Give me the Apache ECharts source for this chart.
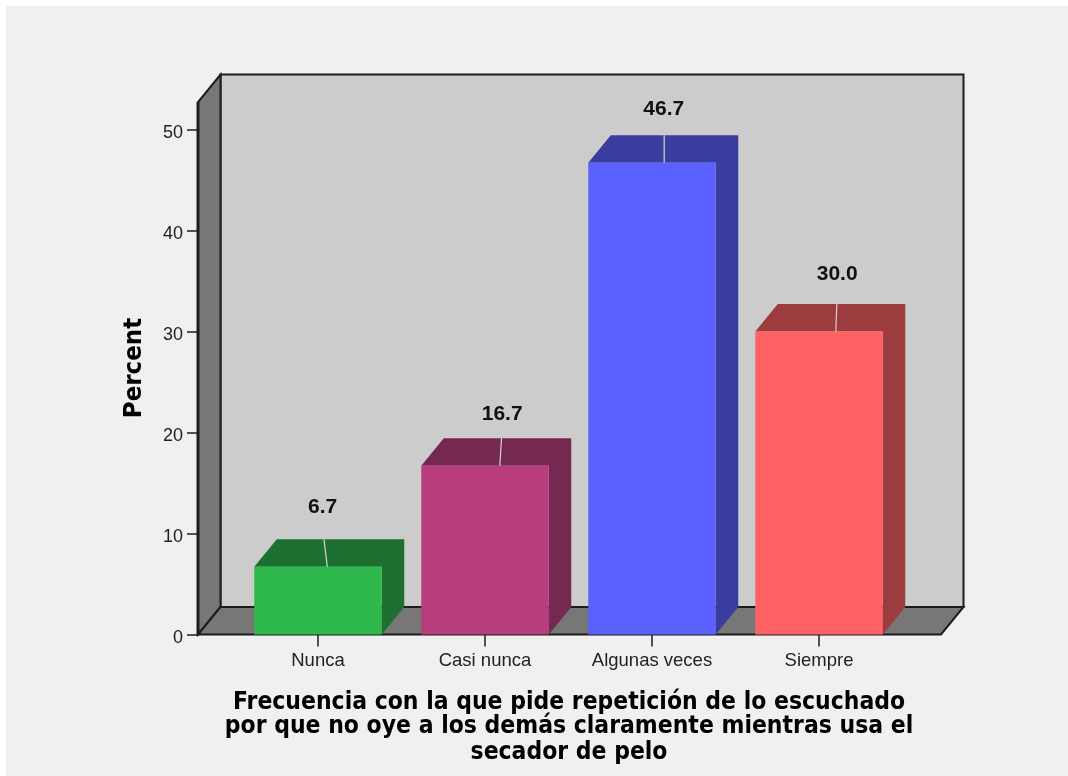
<!DOCTYPE html>
<html>
<head>
<meta charset="utf-8">
<style>html,body{margin:0;padding:0;background:#fff}#chart{width:1068px;height:776px}</style>
<script src="https://cdn.jsdelivr.net/npm/echarts@6/dist/echarts.min.js"></script>
</head>
<body>
<div id="chart"></div>
<script>
// Survey responses, percent of respondents
const categories = ['Nunca', 'Casi nunca', 'Algunas veces', 'Siempre'];
const percentValues = [6.7, 16.7, 46.7, 30.0];
const yTicks = [0, 10, 20, 30, 40, 50];
const yAxisTitle = 'Percent';
const xAxisTitleLines = [
  'Frecuencia con la que pide repetición de lo escuchado',
  'por que no oye a los demás claramente mientras usa el',
  'secador de pelo'
];

// Face colours of each prism: front, then the shaded top and side
const frontColors = ['#2fb84b', '#b83d7c', '#5b61fe', '#fe6264'];
const shadeColors = ['#1e7030', '#752850', '#393d9e', '#9c3c3e'];

// Callout placement per bar, in pixels: label dx, label lift, leader start dx, leader end dx
const callouts = [
  [4.7, 59.5, 6, 9.3],
  [17.2, 52, 16.5, 14.8],
  [11.8, 53.5, 12.2, 12.2],
  [18.2, 57.5, 17.8, 16.8]
];

// Oblique projection of the chart box
const DEPTH_X = 22.5;
const DEPTH_Y = 27.5;
const BOX_LEFT_INSET = 36.5;
const BOX_RIGHT_INSET = 38.5;
const BAR_RATIO = 127.5 / 167;
const AXIS_TOP = 52.72;

const LINE = '#1c1c1c';
const FONT = '"Liberation Sans", Arial, sans-serif';

function poly(points, fill, stroke, width) {
  return {
    type: 'polygon',
    shape: { points },
    style: { fill, stroke: stroke || null, lineWidth: width || 0, lineJoin: 'miter' }
  };
}

// The open box behind the bars: back wall, left wall and floor
function renderBox(params) {
  const c = params.coordSys;
  const l = c.x - BOX_LEFT_INSET;
  const r = c.x + c.width + BOX_RIGHT_INSET;
  const t = c.y;
  const b = c.y + c.height;
  const dx = DEPTH_X, dy = DEPTH_Y;
  return {
    type: 'group',
    children: [
      poly([[l + dx, t - dy], [r + dx, t - dy], [r + dx, b - dy], [l + dx, b - dy]], '#cccccc', LINE, 2),
      poly([[l, b], [l, t], [l + dx, t - dy], [l + dx, b - dy]], '#777777', LINE, 2),
      poly([[l, b], [r, b], [r + dx, b - dy], [l + dx, b - dy]], '#777777', LINE, 2),
      { type: 'line', shape: { x1: l, y1: b + 1, x2: l, y2: t }, style: { stroke: LINE, lineWidth: 3 } }
    ]
  };
}

// One prism with its value label and leader
function renderBar(params, api) {
  const i = params.dataIndex;
  const value = api.value(1);
  const base = api.coord([api.value(0), 0]);
  const top = api.coord([api.value(0), value]);
  const w = api.size([1, 0])[0] * BAR_RATIO;
  const x0 = base[0] - w / 2;
  const x1 = base[0] + w / 2;
  const yb = base[1];
  const yt = top[1];
  const dx = DEPTH_X, dy = DEPTH_Y;
  const nudge = callouts[i];
  return {
    type: 'group',
    children: [
      // top and side share one shade, so they are a single outline
      poly([[x0, yt], [x0 + dx, yt - dy], [x1 + dx, yt - dy], [x1 + dx, yb - dy], [x1, yb], [x1, yt]], shadeColors[i]),
      { type: 'rect', shape: { x: x0, y: yt, width: w, height: yb - yt }, style: { fill: frontColors[i] } },
      {
        type: 'line',
        shape: { x1: base[0] + nudge[2], y1: yt - dy, x2: base[0] + nudge[3], y2: yt },
        style: { stroke: '#d4d4d4', lineWidth: 1.2 }
      },
      {
        type: 'text',
        x: base[0] + nudge[0],
        y: yt - nudge[1],
        style: {
          text: value.toFixed(1),
          fill: '#111',
          font: 'bold 21px ' + FONT,
          align: 'center',
          verticalAlign: 'middle'
        }
      }
    ]
  };
}

const chart = echarts.init(document.getElementById('chart'));
chart.setOption({
  animation: false,
  backgroundColor: '#ffffff',
  grid: { left: 234.5, top: 102, width: 668, height: 532.5 },
  xAxis: {
    type: 'category',
    data: categories,
    axisLine: { show: false },
    axisTick: { show: true, alignWithLabel: true, length: 12, lineStyle: { color: LINE, width: 1.5 } },
    axisLabel: { color: '#222', fontFamily: FONT, fontSize: 18.5, margin: 17 }
  },
  yAxis: {
    type: 'value',
    min: 0,
    max: AXIS_TOP,
    interval: 10,
    offset: BOX_LEFT_INSET,
    splitLine: { show: false },
    axisLine: { show: false },
    axisTick: { show: true, length: 11, customValues: yTicks, lineStyle: { color: LINE, width: 1.5 } },
    axisLabel: { color: '#222', fontFamily: FONT, fontSize: 18, margin: 15, customValues: yTicks, verticalAlign: 'top', lineHeight: 8 }
  },
  graphic: [
    { type: 'rect', z: -10, shape: { x: 6, y: 6, width: 1062, height: 770 }, style: { fill: '#f0f0f0' } },
    {
      type: 'text', x: 134, y: 368, rotation: Math.PI / 2, scaleY: 1.1,
      style: { text: yAxisTitle, fill: '#000', font: 'bold 23px "DejaVu Sans"', align: 'center', verticalAlign: 'middle' }
    },
    ...xAxisTitleLines.map((line, k) => ({
      type: 'text', x: 569, y: [702.3, 726.8, 753][k], scaleY: 1.1,
      style: { text: line, fill: '#000', font: 'bold 22px "DejaVu Sans"', align: 'center', verticalAlign: 'middle' }
    }))
  ],
  series: [
    {
      type: 'custom',
      z: 1,
      silent: true,
      renderItem: renderBox,
      data: [[0, 0]],
      encode: { x: 0, y: 1 }
    },
    {
      type: 'custom',
      z: 3,
      silent: true,
      renderItem: renderBar,
      data: percentValues.map((v, i) => [i, v]),
      encode: { x: 0, y: 1 }
    }
  ]
});
</script>
</body>
</html>
